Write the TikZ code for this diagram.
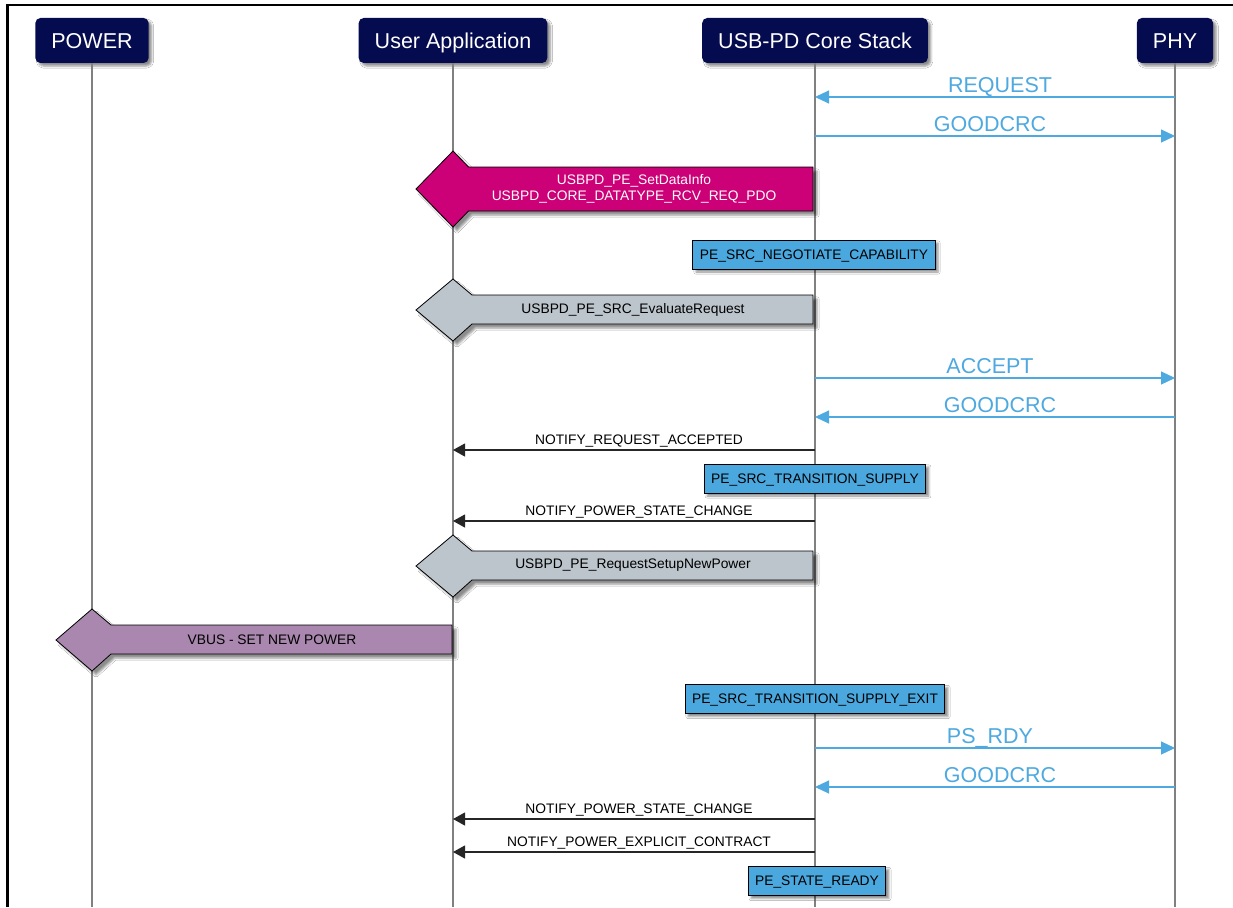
\documentclass[tikz,border=0pt]{standalone}
\usepackage{fontspec}
\setmainfont{Liberation Sans}
\usetikzlibrary{arrows.meta,shadows.blur}
\definecolor{navy}{HTML}{050B4F}
\definecolor{pdblue}{HTML}{4DA9E0}
\definecolor{stblue}{HTML}{4AA8DF}
\definecolor{magentaA}{HTML}{CC0077}
\definecolor{grayarr}{HTML}{BCC4CC}
\definecolor{mauve}{HTML}{A987AE}
\definecolor{lifegray}{HTML}{808080}
\begin{document}
\begin{tikzpicture}[x=1pt,y=-1pt,
  head/.style={rounded corners=5pt, fill=navy, text=white, minimum height=45pt, inner xsep=16pt,
    text height=15.4pt, text depth=0pt,
    font=\fontsize{21.5}{24}\selectfont,
    blur shadow={shadow xshift=3pt,shadow yshift=-3pt,shadow blur steps=4,shadow opacity=45}},
  life/.style={draw=lifegray, line width=1.5pt},
  bmsg/.style={draw=pdblue, line width=1.1pt, -{Triangle[length=14pt,width=13pt]}},
  blbl/.style={text=pdblue, font=\fontsize{21.5}{24}\selectfont, inner sep=0pt,
    text height=15.4pt, text depth=0pt},
  kmsg/.style={draw=black!85, line width=1.1pt, -{Triangle[length=12pt,width=13pt]}},
  klbl/.style={text=black, font=\fontsize{13.8}{16}\selectfont, inner sep=0pt,
    text height=9.9pt, text depth=0pt},
  state/.style={draw=black, line width=1pt, fill=stblue, minimum height=29pt, inner xsep=7pt,
    text height=9.9pt, text depth=0pt,
    font=\fontsize{13.8}{16}\selectfont,
    blur shadow={shadow xshift=3pt,shadow yshift=-3pt,shadow blur steps=4,shadow opacity=45}},
  call/.style={draw=black, line width=0.8pt,
    blur shadow={shadow xshift=4pt,shadow yshift=-4pt,shadow blur steps=4,shadow opacity=45}},
  calltxt/.style={font=\fontsize{13.8}{16}\selectfont, align=center, inner sep=0pt},
]
\useasboundingbox (0,0) rectangle (1233,907);
\fill[white] (0,0) rectangle (1233,907);

% frame
\draw[line width=2.5pt] (7.7,907) -- (7.7,5) -- (1233,5);

% headers
\node[head] (power) at (92,40.5) {POWER};
\node[head] (user) at (453,40.5) {User Application};
\node[head] (core) at (815,40.5) {USB-PD Core Stack};
\node[head] (phy) at (1175,40.5) {PHY};

\coordinate (bot) at (0,907);
\draw[life] (power.south) -- (power.south |- bot);
\draw[life] (user.south) -- (user.south |- bot);
\draw[life] (core.south) -- (core.south |- bot);
\draw[life] (phy.south) -- (phy.south |- bot);

% blue PHY messages
\coordinate (a1c) at (815,97);  \coordinate (a1p) at (1175,97);
\draw[bmsg] (a1p) -- node[midway, yshift=12pt, xshift=5pt, blbl] {REQUEST} (a1c);
\coordinate (a2c) at (815,136); \coordinate (a2p) at (1175,136);
\draw[bmsg] (a2c) -- node[midway, yshift=12pt, xshift=-5pt, blbl] {GOODCRC} (a2p);
\coordinate (a3c) at (815,378); \coordinate (a3p) at (1175,378);
\draw[bmsg] (a3c) -- node[midway, yshift=12.5pt, xshift=-5pt, blbl] {ACCEPT} (a3p);
\coordinate (a4c) at (815,417); \coordinate (a4p) at (1175,417);
\draw[bmsg] (a4p) -- node[midway, yshift=12pt, xshift=5pt, blbl] {GOODCRC} (a4c);
\coordinate (a5c) at (815,748); \coordinate (a5p) at (1175,748);
\draw[bmsg] (a5c) -- node[midway, yshift=12.5pt, xshift=-5pt, blbl] {PS\_RDY} (a5p);
\coordinate (a6c) at (815,787); \coordinate (a6p) at (1175,787);
\draw[bmsg] (a6p) -- node[midway, yshift=12pt, xshift=5pt, blbl] {GOODCRC} (a6c);

% black notifications
\coordinate (n1c) at (815,450); \coordinate (n1u) at (453,450);
\draw[kmsg] (n1c) -- node[midway, yshift=10pt, xshift=5pt, klbl] {NOTIFY\_REQUEST\_ACCEPTED} (n1u);
\coordinate (n2c) at (815,521); \coordinate (n2u) at (453,521);
\draw[kmsg] (n2c) -- node[midway, yshift=10pt, xshift=5pt, klbl] {NOTIFY\_POWER\_STATE\_CHANGE} (n2u);
\coordinate (n3c) at (815,819); \coordinate (n3u) at (453,819);
\draw[kmsg] (n3c) -- node[midway, yshift=10pt, xshift=5pt, klbl] {NOTIFY\_POWER\_STATE\_CHANGE} (n3u);
\coordinate (n4c) at (815,852); \coordinate (n4u) at (453,852);
\draw[kmsg] (n4c) -- node[midway, yshift=10pt, xshift=5pt, klbl] {NOTIFY\_POWER\_EXPLICIT\_CONTRACT} (n4u);

% state boxes
\node[state] (s1) at (814,254.5) {PE\_SRC\_NEGOTIATE\_CAPABILITY};
\node[state] (s2) at (815,478.5) {PE\_SRC\_TRANSITION\_SUPPLY};
\node[state] (s3) at (815,699) {PE\_SRC\_TRANSITION\_SUPPLY\_EXIT};
\node[state] (s4) at (817,881) {PE\_STATE\_READY};

% call arrows
\path[call, fill=magentaA] (813,167) -- (468.5,167) -- (453,151) -- (416,189) -- (453,227) -- (468.5,211) -- (813,211) -- cycle;
\node[calltxt, text=white] (c1) at (634,189) {USBPD\_PE\_SetDataInfo\\USBPD\_CORE\_DATATYPE\_RCV\_REQ\_PDO};

\path[call, fill=grayarr] (813,295) -- (472,295) -- (453,279) -- (416,310) -- (453,341) -- (472,324) -- (813,324) -- cycle;
\node[calltxt] (c2) at (633,309.5) {USBPD\_PE\_SRC\_EvaluateRequest};

\path[call, fill=grayarr] (813,551) -- (472,551) -- (453,535) -- (416,566) -- (453,597) -- (472,580) -- (813,580) -- cycle;
\node[calltxt] (c3) at (633,565.5) {USBPD\_PE\_RequestSetupNewPower};

\path[call, fill=mauve] (452,625) -- (111,625) -- (92,609) -- (56,640) -- (92,671) -- (111,654) -- (452,654) -- cycle;
\node[calltxt] (c4) at (272,639.5) {VBUS - SET NEW POWER};
\end{tikzpicture}
\end{document}
